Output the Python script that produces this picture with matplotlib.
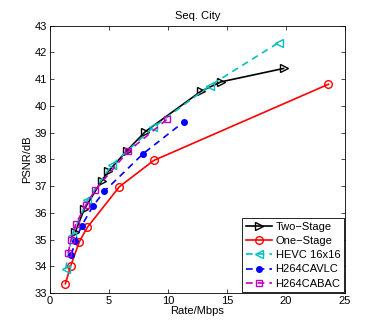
import matplotlib
matplotlib.use("Agg")
import matplotlib.pyplot as plt

plt.rcParams["font.family"] = ["Liberation Sans", "DejaVu Sans"]

# ── Data ──────────────────────────────────────────────────────────────────────
two_rate  = [2.15, 2.9, 4.38, 4.94, 6.5, 8.08, 12.8, 14.5, 19.8]
two_psnr  = [35.3, 36.14, 37.2, 37.55, 38.32, 39.04, 40.55, 40.9, 41.4]

one_rate  = [1.3, 1.75, 2.49, 3.16, 5.88, 8.79, 23.6]
one_psnr  = [33.35, 34.02, 34.93, 35.46, 36.98, 37.96, 40.81]

hevc_rate = [1.32, 1.84, 3.16, 5.23, 8.76, 13.56, 19.4]
hevc_psnr = [33.9, 35.14, 36.47, 37.79, 39.2, 40.76, 42.37]

cavlc_rate = [1.81, 2.15, 2.68, 3.62, 4.58, 7.91, 11.36]
cavlc_psnr = [34.44, 34.96, 35.52, 36.24, 36.8, 38.22, 39.41]

cabac_rate = [1.53, 1.78, 2.2, 3.05, 3.81, 6.61, 9.92]
cabac_psnr = [34.5, 34.98, 35.6, 36.3, 36.85, 38.3, 39.5]

# ── Plot ──────────────────────────────────────────────────────────────────────
fig = plt.figure(figsize=(3.82, 3.29), dpi=100)
ax = fig.add_axes([0.131, 0.109, 0.772, 0.813])

dash = (0, (4, 3))
ax.plot(two_rate, two_psnr, color="k", marker=">", mfc="none", ms=5.5, lw=1.2,
        label="Two\u2212Stage")
ax.plot(one_rate, one_psnr, color="r", marker="o", mfc="none", ms=5.5, lw=1.2,
        label="One\u2212Stage")
ax.plot(hevc_rate, hevc_psnr, color="c", marker="<", mfc="none", ms=5.5, lw=1.2,
        ls=dash, label="HEVC 16x16")
ax.plot(cavlc_rate, cavlc_psnr, color="b", marker=".", ms=8, lw=1.2,
        ls=dash, label="H264CAVLC")
ax.plot(cabac_rate, cabac_psnr, color="m", marker="s", mfc="none", ms=4.5, lw=1.2,
        ls=dash, label="H264CABAC")

ax.set_xlim(0, 25)
ax.set_ylim(33, 43)
ax.set_xticks([0, 5, 10, 15, 20, 25])
ax.set_yticks(range(33, 44))
ax.tick_params(direction="in", top=True, right=True, labelsize=8, length=3,
               width=0.5, pad=2)
for s in ax.spines.values():
    s.set_linewidth(0.6)

ax.set_xlabel("Rate/Mbps", fontsize=8, labelpad=0)
ax.set_ylabel("PSNR/dB", fontsize=8, labelpad=2)
ax.set_title("Seq. City", fontsize=8, pad=5)

leg = ax.legend(loc="lower right", fontsize=8, frameon=True, fancybox=False,
                edgecolor="k", framealpha=1, handlelength=2.4,
                borderpad=0.3, labelspacing=0.38, handletextpad=0.3,
                borderaxespad=0.1)
leg.get_frame().set_linewidth(0.6)

fig.savefig("out.png", dpi=100)
